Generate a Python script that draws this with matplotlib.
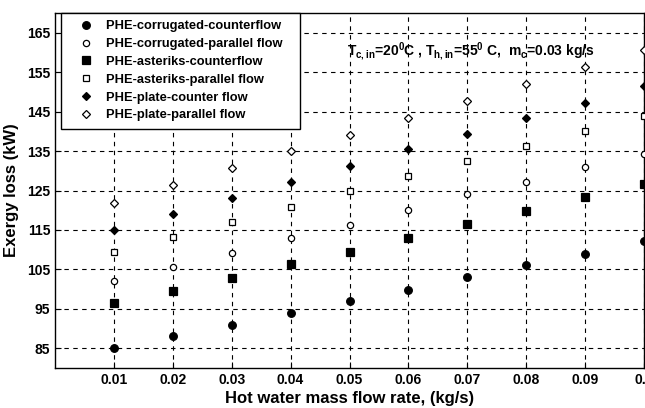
import matplotlib
matplotlib.use("Agg")
import matplotlib.pyplot as plt
import numpy as np

plt.rcParams['font.family'] = ['Liberation Sans', 'DejaVu Sans']
plt.rcParams['font.weight'] = 'bold'
plt.rcParams['mathtext.fontset'] = 'custom'
plt.rcParams['mathtext.rm'] = 'Liberation Sans:bold'
plt.rcParams['mathtext.it'] = 'Liberation Sans:bold'
plt.rcParams['mathtext.bf'] = 'Liberation Sans:bold'

# hot water mass flow rate (kg/s)
m_hot = [0.01, 0.02, 0.03, 0.04, 0.05, 0.06, 0.07, 0.08, 0.09, 0.10]

# exergy loss (kW) for each exchanger / flow arrangement
corr_counter = [85.0, 88.1, 91.0, 94.0, 97.1, 99.9, 103.0, 106.2, 109.0, 112.1]
corr_parallel = [102.0, 105.6, 109.2, 112.9, 116.3, 120.1, 124.0, 127.1, 130.9, 134.3]
ast_counter = [96.5, 99.5, 102.8, 106.4, 109.5, 113.0, 116.6, 119.8, 123.4, 126.6]
ast_parallel = [109.3, 113.3, 117.1, 120.9, 125.0, 128.8, 132.4, 136.4, 140.2, 143.9]
plate_counter = [115.0, 119.0, 123.2, 127.1, 131.3, 135.5, 139.3, 143.3, 147.3, 151.5]
plate_parallel = [121.9, 126.3, 130.6, 134.9, 139.2, 143.5, 147.7, 152.0, 156.3, 160.6]

labels = ["PHE-corrugated-counterflow", "PHE-corrugated-parallel flow",
          "PHE-asteriks-counterflow", "PHE-asteriks-parallel flow",
          "PHE-plate-counter flow", "PHE-plate-parallel flow"]

fig = plt.figure(figsize=(6.45, 4.08), dpi=100)
ax = fig.add_axes([0.0853, 0.098, 0.9132, 0.870])

series = [
    (corr_counter, 'o', 'k', 5.5),
    (corr_parallel, 'o', 'w', 4.5),
    (ast_counter, 's', 'k', 5.5),
    (ast_parallel, 's', 'w', 4.5),
    (plate_counter, 'D', 'k', 4.2),
    (plate_parallel, 'D', 'w', 4.2),
]
for (vals, mk, fc, ms), lab in zip(series, labels):
    # trailing spaces give the legend box its wide right margin
    ax.plot(m_hot, vals, linestyle='none', marker=mk, markerfacecolor=fc,
            markeredgecolor='k', markersize=ms, markeredgewidth=0.9,
            label=lab + "   ", zorder=3)

ax.set_xlim(0, 0.1)
ax.set_ylim(80, 170)
ax.set_xticks(m_hot)
ax.set_xticklabels([f"{v:.2f}" if v < 0.095 else "0.1" for v in m_hot])
ax.set_yticks(np.arange(85, 166, 10))
ax.tick_params(direction='in', labelsize=10, length=4, width=0.8)
for lbl in ax.get_xticklabels() + ax.get_yticklabels():
    lbl.set_fontweight('bold')

ax.grid(True, color='k', linestyle=(0, (4, 4)), linewidth=0.8)
for sp in ax.spines.values():
    sp.set_linewidth(1.0)

ax.set_xlabel("Hot water mass flow rate, (kg/s)", fontsize=12, fontweight='bold', labelpad=3)
ax.set_ylabel("Exergy loss (kW)", fontsize=12, fontweight='bold', labelpad=6)

ax.text(0.0496, 160.3,
        r"$T_{c,in}$=20$^0$C , $T_{h,in}$=55$^0$ C,  m$_c$=0.03 kg/s",
        fontsize=10, fontweight='bold', va='center', ha='left')

leg = ax.legend(loc='upper left', bbox_to_anchor=(0.0102, 1.0), fancybox=False,
                edgecolor='k', framealpha=1, prop={'weight': 'bold', 'size': 9.3},
                borderpad=0.55, labelspacing=0.45, handletextpad=0.2,
                handlelength=2.7, borderaxespad=0.0)
leg.get_frame().set_linewidth(1.0)

fig.savefig("out.png", dpi=100)
